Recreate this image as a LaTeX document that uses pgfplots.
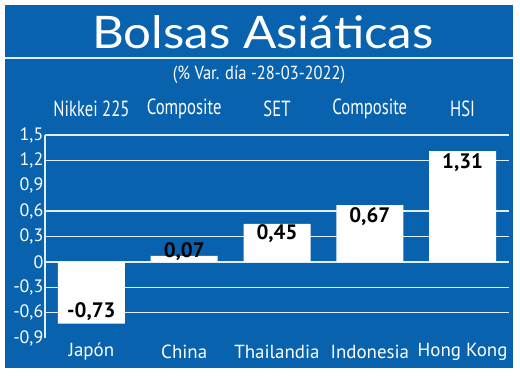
\documentclass[border=0pt]{standalone}
\usepackage{fontspec}
\setmainfont{PT Sans}
\newfontfamily\titlefont{Lato}
\newfontfamily\condfont{PT Sans}[FakeStretch=0.76]
\newfontfamily\subfont{PT Sans}[FakeStretch=0.87]
\usepackage{pgfplots}
\pgfplotsset{compat=1.18}
\definecolor{bg}{HTML}{0862AE}
\definecolor{gridc}{HTML}{DCEFFA}
\begin{document}
\begin{tikzpicture}
\path[use as bounding box] (0,0) rectangle (520bp,-376bp);
\fill[white] (0,0) rectangle (520bp,-376bp);
\fill[bg] (5bp,-5bp) rectangle (513bp,-368bp);
\draw[gridc, line width=1.3bp] (5bp,-58bp) -- (513bp,-58bp);
\node[white, anchor=base, inner sep=0pt, font=\titlefont\fontsize{45}{45}\selectfont] at (263bp,-48bp) {\scalebox{1.1}[1]{Bolsas Asiáticas}};
\node[white, anchor=base, inner sep=0pt, font=\subfont\fontsize{19}{19}\selectfont] at (259bp,-79bp) {(\% Var. día -28-03-2022)};
\begin{axis}[
  at={(45bp,-338bp)}, anchor=south west,
  scale only axis, width=464bp, height=203bp,
  xmin=-0.5, xmax=4.5, ymin=-0.9, ymax=1.5,
  axis x line=none, axis y line*=left,
  y axis line style={gridc, line width=1.3bp},
  xtick=\empty,
  ytick={-0.6,-0.3,0,0.3,0.6,1.2,1.5},
  yticklabels={},
  ymajorgrids,
  major grid style={gridc, line width=1.3bp},
  major tick length=0pt,
  clip=false,
]
\addplot[ybar, bar width=67bp, fill=white, draw=none] coordinates {(0,-0.73) (1,0.07) (2,0.45) (3,0.67) (4,1.31)};
\begin{scope}[every node/.style={font=\fontsize{18}{18}\selectfont, text=white, anchor=east, inner xsep=1.5bp}]
\node at (axis cs:-0.5,1.5) {1,5};
\node at (axis cs:-0.5,1.2) {1,2};
\node at (axis cs:-0.5,0.9) {0,9};
\node at (axis cs:-0.5,0.6) {0,6};
\node at (axis cs:-0.5,0.3) {0,3};
\node at (axis cs:-0.5,0) {0};
\node at (axis cs:-0.5,-0.3) {-0,3};
\node at (axis cs:-0.5,-0.6) {-0,6};
\node at (axis cs:-0.5,-0.9) {-0,9};
\end{scope}
\begin{scope}[every node/.style={font=\bfseries\fontsize{21}{21}\selectfont, text=black}]
\node at (axis cs:0,-0.59) {-0,73};
\node at (axis cs:1,0.12) {0,07};
\node at (axis cs:2,0.33) {0,45};
\node at (axis cs:3,0.54) {0,67};
\node at (axis cs:4,1.17) {1,31};
\end{scope}
\begin{scope}[every node/.style={font=\condfont\fontsize{22}{22}\selectfont, text=white}]
\node at (axis cs:0,1.81) {Nikkei 225};
\node at (axis cs:1,1.81) {Composite};
\node at (axis cs:2,1.81) {SET};
\node at (axis cs:3,1.81) {Composite};
\node at (axis cs:4,1.81) {HSI};
\end{scope}
\begin{scope}[every node/.style={font=\fontsize{19}{19}\selectfont, text=white}]
\node at (axis cs:0,-1.06) {Japón};
\node at (axis cs:1,-1.06) {China};
\node at (axis cs:2,-1.06) {Thailandia};
\node at (axis cs:3,-1.06) {Indonesia};
\node at (axis cs:4,-1.06) {Hong Kong};
\end{scope}
\end{axis}
\end{tikzpicture}
\end{document}
